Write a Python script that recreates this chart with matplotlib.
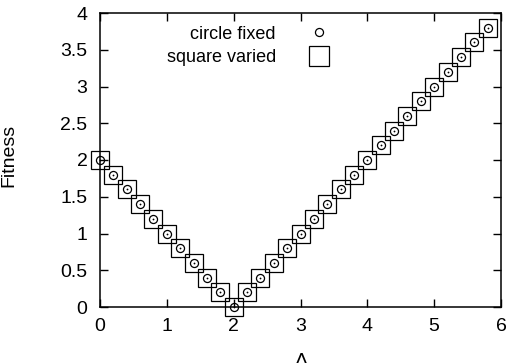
import numpy as np
import matplotlib
matplotlib.use("Agg")
import matplotlib.pyplot as plt
from matplotlib.lines import Line2D

# Data
delta = [0.0, 0.2, 0.4, 0.6, 0.8, 1.0, 1.2, 1.4, 1.6, 1.8, 2.0,
         2.2, 2.4, 2.6, 2.8, 3.0, 3.2, 3.4, 3.6, 3.8, 4.0,
         4.2, 4.4, 4.6, 4.8, 5.0, 5.2, 5.4, 5.6, 5.8]
fitness_fixed = [2.0, 1.8, 1.6, 1.4, 1.2, 1.0, 0.8, 0.6, 0.4, 0.2, 0.0,
                 0.2, 0.4, 0.6, 0.8, 1.0, 1.2, 1.4, 1.6, 1.8, 2.0,
                 2.2, 2.4, 2.6, 2.8, 3.0, 3.2, 3.4, 3.6, 3.8]
fitness_varied = list(fitness_fixed)
xticks = [0, 1, 2, 3, 4, 5, 6]
yticks = [0, 0.5, 1, 1.5, 2, 2.5, 3, 3.5, 4]
xtick_labels = ["0", "1", "2", "3", "4", "5", "6"]
ytick_labels = ["0", "0.5", "1", "1.5", "2", "2.5", "3", "3.5", "4"]

plt.rcParams['font.family'] = ['Liberation Sans', 'DejaVu Sans']

fig = plt.figure(figsize=(5.08, 3.63), dpi=100)
W, H = 508, 363
left, right, top, bottom = 100, 501, 13, 307
ax = fig.add_axes([left / W, 1 - bottom / H, (right - left) / W, (bottom - top) / H])

fs = 14
lw = 0.9
ax.plot(delta, fitness_varied, linestyle='none', marker='s', markersize=13,
        markerfacecolor='none', markeredgecolor='black', markeredgewidth=lw,
        clip_on=False, zorder=3)
ax.plot(delta, fitness_fixed, linestyle='none', marker='o', markersize=5.8,
        markerfacecolor='none', markeredgecolor='black', markeredgewidth=lw,
        clip_on=False, zorder=4)
ax.plot(delta, fitness_fixed, linestyle='none', marker='o', markersize=1.3,
        markerfacecolor='black', markeredgewidth=0, color='black',
        clip_on=False, zorder=5)

ax.set_xlim(0, 6)
ax.set_ylim(0, 4)
ax.set_xticks(xticks)
ax.set_xticklabels(xtick_labels)
ax.set_yticks(yticks)
ax.set_yticklabels(ytick_labels)
ax.tick_params(direction='in', length=6, width=1.0, top=True, right=True,
               labelsize=fs, colors='black')
ax.tick_params(axis='x', pad=8)
ax.tick_params(axis='y', pad=9)
for s in ax.spines.values():
    s.set_linewidth(1.1)
    s.set_zorder(2)

ax.set_ylabel('Fitness', fontsize=fs)
ax.yaxis.set_label_coords((17 - left) / (right - left), (bottom - 155) / (bottom - top))
ax.set_xlabel('Δ', fontsize=fs)
ax.xaxis.set_label_coords(0.5, (bottom - 353) / (bottom - top))

handles = [
    Line2D([], [], linestyle='none', marker='o', markersize=5.8,
           markerfacecolor='none', markeredgecolor='black', markeredgewidth=lw),
    Line2D([], [], linestyle='none', marker='s', markersize=14,
           markerfacecolor='none', markeredgecolor='black', markeredgewidth=lw),
]
leg = ax.legend(handles, ['circle fixed', 'square varied'], loc='upper left',
                bbox_to_anchor=((154 - left) / (right - left), 1.0),
                frameon=False, fontsize=13, markerfirst=False,
                handlelength=1.0, handletextpad=1.9, labelspacing=0.35,
                borderaxespad=0.3)
for t in leg.get_texts():
    t.set_ha('right')

fig.savefig('out.png', dpi=100)
